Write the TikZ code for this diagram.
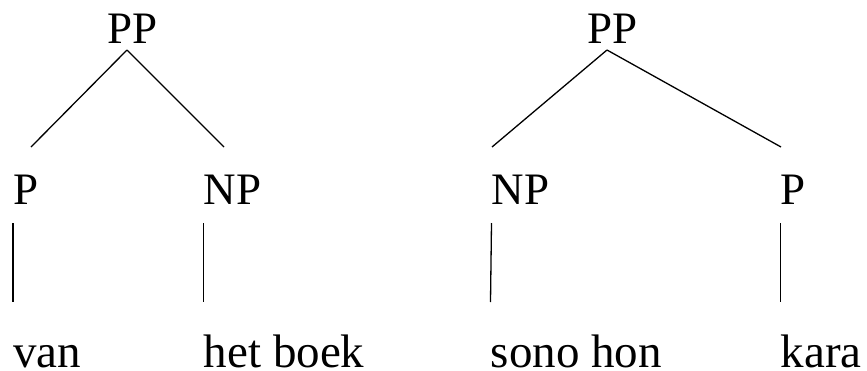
\documentclass[tikz,border=0pt]{standalone}
\usepackage{fontspec}
\setmainfont{Liberation Serif}
\usetikzlibrary{positioning}
\tikzstyle{cat}=[inner sep=0pt, anchor=base west, font=\fontsize{22.5}{27}\selectfont]
\tikzstyle{word}=[inner sep=0pt, anchor=base west, font=\fontsize{23.5}{28}\selectfont]
\tikzstyle{branch}=[line width=0.65pt]

\begin{document}
\begin{tikzpicture}[x=0.5pt, y=-0.5pt]
		\useasboundingbox (0,0) rectangle (867,370);
		
		% van het boek
		\node(n1)[cat] at (107,43) {PP};
		\node(n1-1)[cat] at (13,204) {P};
		\node(n1-2)[cat] at (203.5,204) {NP};
		\node(n1-1-1)[word] at (13,367) {van};
		\node(n1-2-1)[word] at (203.5,367) {het boek};
		
		\coordinate(g1) at (127,50);
		\coordinate(g1-1) at (31,147);
		\coordinate(g1-2) at (224,147);
		
		% sono hon kara
		\node(n2)[cat] at (587,43) {PP};
		\node(n2-1)[cat] at (491.5,204) {NP};
		\node(n2-2)[cat] at (780.5,204) {P};
		\node(n2-1-1)[word] at (490.5,367) {sono hon};
		\node(n2-2-1)[word] at (780.5,367) {kara};
		
		\coordinate(g2) at (607,50);
		\coordinate(g2-1) at (492,147);
		\coordinate(g2-2) at (781,147);
		
		\draw[branch](g1)--(g1-1);
		\draw[branch](g1)--(g1-2);
		\draw[branch](g2)--(g2-1);
		\draw[branch](g2)--(g2-2);
		\draw[branch]([yshift=-9.5pt]n1-1.base west)--([yshift=32.5pt]n1-1-1.base west);
		\draw[branch]([yshift=-9.5pt]n1-2.base west)--([yshift=32.5pt]n1-2-1.base west);
		\draw[branch]([yshift=-9.5pt]n2-1.base west)--([yshift=32.5pt]n2-1-1.base west);
		\draw[branch]([yshift=-9.5pt]n2-2.base west)--([yshift=32.5pt]n2-2-1.base west);
		
	\end{tikzpicture}
\end{document}
